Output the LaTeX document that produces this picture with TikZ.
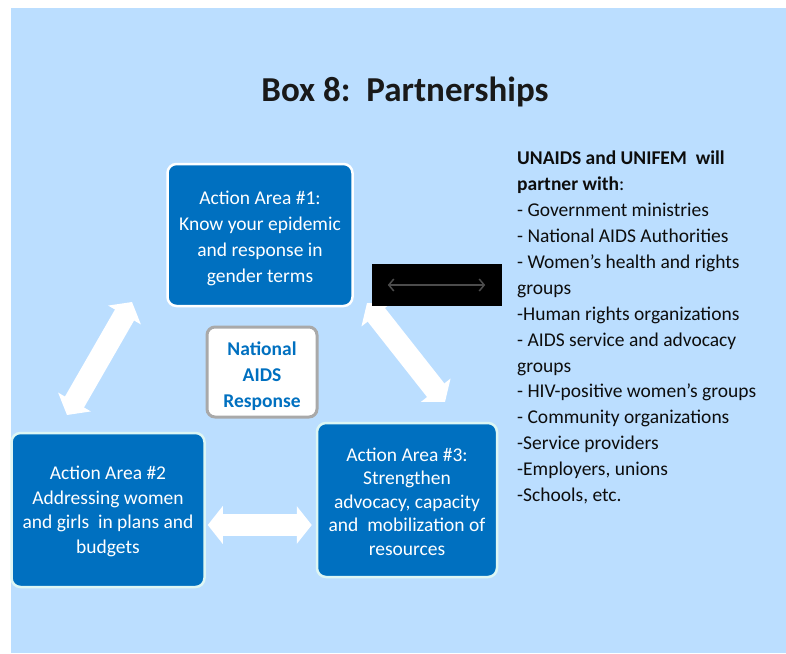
\documentclass[tikz,border=0pt]{standalone}
\usepackage{fontspec}
\setmainfont{Carlito}
\usetikzlibrary{arrows.meta}
\definecolor{bgblue}{HTML}{BBDEFF}
\definecolor{boxblue}{HTML}{0070C0}
\definecolor{paleedge}{HTML}{DDF6F4}
\definecolor{natgray}{HTML}{A9A9A9}
\tikzset{
  area/.style={fill=boxblue, rounded corners=9pt, line width=2.5pt, text=white,
    align=center, font=\fontsize{19.5}{24.5}\selectfont, inner sep=0pt},
  blockarrow/.style={draw=white, line width=22pt,
    {Triangle[width=37pt,length=15pt]}-{Triangle[width=37pt,length=15pt]}},
  thinarrow/.style={draw=black!70!white, line width=1.5pt,
    {Straight Barb[length=5pt,width=12pt]}-{Straight Barb[length=5pt,width=12pt]}},
}
\begin{document}
\begin{tikzpicture}[x=1pt,y=-1pt]
\useasboundingbox (0,0) rectangle (786,653);
\fill[bgblue] (11,8) rectangle (786,653);

\node[font=\fontsize{35}{40}\selectfont\bfseries, text=black!90] (title) at (405,92) {Box 8:\ \ Partnerships};

\node[area, draw=white, minimum width=185pt, minimum height=142pt,
  font=\fontsize{19.5}{26}\selectfont] (a1) at (260,235) {};
\node[align=center, text=white, font=\fontsize{19.5}{26}\selectfont, inner sep=0pt] (t1) at (260,238)
  {Action Area \#1:\\Know your epidemic\\and response in\\gender terms};
\node[area, draw=paleedge, minimum width=193pt, minimum height=154pt] (a2) at (108,510) {};
\node[align=center, text=white, font=\fontsize{19.5}{24.5}\selectfont, inner sep=0pt] (t2) at (108,511.5)
  {Action Area \#2\\Addressing women\\and girls\ \ in plans and\\budgets};
\node[area, draw=paleedge, minimum width=180pt, minimum height=154pt] (a3) at (407,500) {};
\node[align=center, text=white, font=\fontsize{19.5}{23.5}\selectfont, inner sep=0pt] (t3) at (407,501.5)
  {Action Area \#3:\\Strengthen\\advocacy, capacity\\and\ \ mobilization of\\resources};

\node[draw=natgray, line width=3pt, fill=white, rounded corners=8pt,
  minimum width=110pt, minimum height=90pt, inner sep=0pt] (nat) at (262,372) {};
\node[text=boxblue, align=center, inner sep=0pt,
  font=\fontsize{19.5}{26}\selectfont\bfseries] (natt) at (262,376)
  {National\\AIDS\\Response};

\coordinate (l1) at (67,415);
\coordinate (l2) at (132,302);
\coordinate (r1) at (367,303);
\coordinate (r2) at (445,402);
\draw[blockarrow] (l1) -- (l2);
\draw[blockarrow] (r1) -- (r2);
\draw[blockarrow, shorten <=2pt, shorten >=4pt] (a2.east |- 0,525) -- (a3.west |- 0,525);

\node[fill=black, minimum width=130pt, minimum height=42pt, inner sep=0pt] (blk) at (437,285) {};
\draw[thinarrow] ([xshift=16pt]blk.west) -- ([xshift=-17pt]blk.east);

\node[anchor=north west, align=left, inner sep=0pt, text=black!95,
  font=\fontsize{19.5}{25.9}\selectfont] (list) at (517,151)
  {\textbf{UNAIDS and UNIFEM\ \ will}\\
   \textbf{partner with}:\\
   - Government ministries\\
   - National AIDS Authorities\\
   - Women’s health and rights\\
   groups\\
   -Human rights organizations\\
   - AIDS service and advocacy\\
   groups\\
   - HIV-positive women’s groups\\
   - Community organizations\\
   -Service providers\\
   -Employers, unions\\
   -Schools, etc.};
\end{tikzpicture}
\end{document}
